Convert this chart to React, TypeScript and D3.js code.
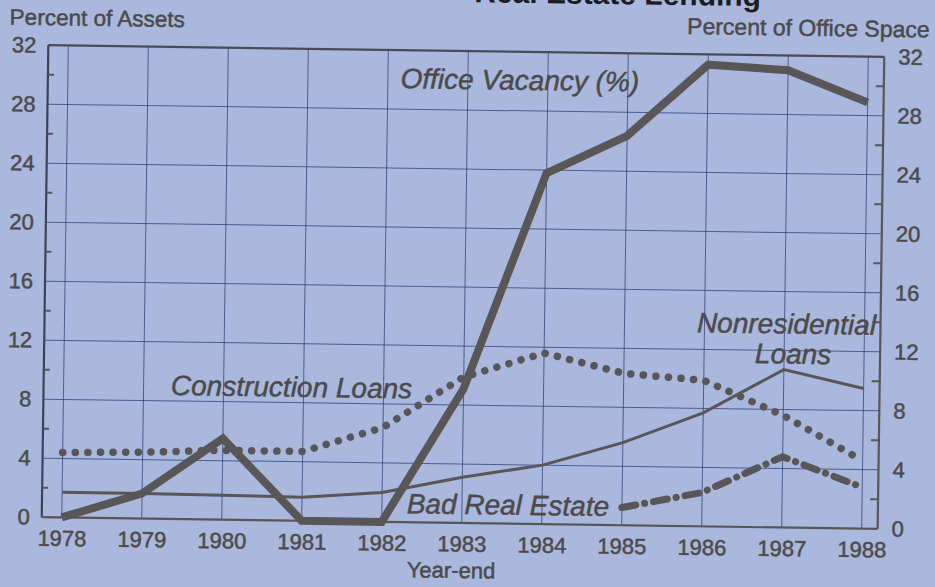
import React, { useEffect, useRef } from 'react';
import * as d3 from 'd3';

// values (percent)
const years = [1978, 1979, 1980, 1981, 1982, 1983, 1984, 1985, 1986, 1987, 1988];
const officeVacancy = [0, 1.7, 5.5, 0, 0, 9.1, 23.8, 26.4, 31.3, 31.0, 28.9];
const constructionLoans = [4.4, 4.5, 4.7, 4.7, 6.4, 9.9, 11.6, 10.3, 9.9, 7.6, 4.6];
const nonresidentialLoans = [1.7, 1.7, 1.65, 1.6, 2.0, 3.1, 4.0, 5.6, 7.7, 10.7, 9.5];
const badRealEstateYears = [1985, 1986, 1987, 1988];
const badRealEstate = [1.2, 2.3, 4.8, 2.8];
const yTicks = [0, 4, 8, 12, 16, 20, 24, 28, 32];
const minorTicks = [2, 6, 10, 14, 18, 22, 26, 30];

const W = 935;
const H = 587;
const FONT = '"Liberation Sans", Arial, Helvetica, sans-serif';
const BG = '#a9b8dc';
const INK = '#595657';
const TEXT = '#4d4a4b';
const GRID = '#2d3f78';

const Chart: React.FC = () => {
  const svgRef = useRef<SVGSVGElement>(null);

  useEffect(() => {
    if (!svgRef.current) return;
    const svg = d3.select(svgRef.current);
    svg.selectAll('*').remove();

    const margin = { top: 51, right: 54, bottom: 64, left: 45 };
    const left = margin.left;
    const right = W - margin.right;
    const top = margin.top;
    const bottom = H - margin.bottom;

    svg.append('rect').attr('width', W).attr('height', H).attr('fill', BG);

    // the scan is slightly tilted
    const g = svg.append('g').attr('transform', 'rotate(0.8,463,287)');

    // title, mostly cut off by the top edge of the scan
    g.append('text')
      .attr('x', 757)
      .attr('y', 2)
      .attr('text-anchor', 'end')
      .attr('font-family', FONT)
      .attr('font-weight', 'bold')
      .attr('font-size', 30)
      .attr('fill', '#1c1c22')
      .text('Real Estate Lending');

    const x = d3.scaleLinear().domain([1978, 1988]).range([65, 865]);
    const y = d3.scaleLinear().domain([0, 32]).range([bottom, top]);

    // grid
    const grid = g.append('g').attr('stroke', GRID).attr('stroke-width', 1).attr('stroke-opacity', 0.75);
    grid.selectAll('line.v')
      .data(years)
      .join('line')
      .attr('class', 'v')
      .attr('x1', d => x(d))
      .attr('x2', d => x(d))
      .attr('y1', top)
      .attr('y2', bottom);
    grid.selectAll('line.h')
      .data(yTicks.filter(v => v > 0 && v < 32))
      .join('line')
      .attr('class', 'h')
      .attr('x1', left)
      .attr('x2', right)
      .attr('y1', d => y(d))
      .attr('y2', d => y(d));

    // frame
    const frame = g.append('g').attr('stroke-width', 2.2).attr('fill', 'none');
    frame.append('line').attr('x1', left).attr('x2', left).attr('y1', top).attr('y2', bottom).attr('stroke', '#3d4258');
    frame.append('line').attr('x1', left).attr('x2', right).attr('y1', top).attr('y2', top).attr('stroke', '#4a4b57');
    frame.append('line').attr('x1', left).attr('x2', right).attr('y1', bottom).attr('y2', bottom).attr('stroke', INK);
    frame.append('line').attr('x1', right).attr('x2', right).attr('y1', top).attr('y2', bottom).attr('stroke', INK);

    // minor ticks, pointing inwards
    g.append('g')
      .selectAll('line')
      .data(minorTicks)
      .join('line')
      .attr('x1', left)
      .attr('x2', left + 6)
      .attr('y1', d => y(d))
      .attr('y2', d => y(d))
      .attr('stroke', INK)
      .attr('stroke-width', 2);
    g.append('g')
      .selectAll('line')
      .data(minorTicks)
      .join('line')
      .attr('x1', right)
      .attr('x2', right - 8)
      .attr('y1', d => y(d))
      .attr('y2', d => y(d))
      .attr('stroke', INK)
      .attr('stroke-width', 2);

    // tick labels
    const styleAxis = (sel: d3.Selection<SVGGElement, unknown, null, undefined>) => {
      sel.select('.domain').remove();
      sel.selectAll('line').remove();
      sel.selectAll('text')
        .attr('font-family', FONT)
        .attr('font-size', 22)
        .attr('fill', TEXT)
        .attr('stroke', TEXT)
        .attr('stroke-width', 0.5);
      sel.attr('font-family', null).attr('font-size', null);
    };

    g.append('g')
      .attr('transform', `translate(${left},0)`)
      .call(d3.axisLeft(y).tickValues(yTicks).tickSize(0).tickPadding(12).tickFormat(d3.format('d')))
      .call(styleAxis);

    g.append('g')
      .attr('transform', `translate(${right},0)`)
      .call(d3.axisRight(y).tickValues(yTicks).tickSize(0).tickPadding(14).tickFormat(d3.format('d')))
      .call(styleAxis);

    g.append('g')
      .attr('transform', `translate(0,${bottom})`)
      .call(d3.axisBottom(x).tickValues(years).tickSize(0).tickPadding(13).tickFormat(d3.format('d')))
      .call(styleAxis);

    // plain text helper
    const label = (tx: number, ty: number, t: string, anchor = 'start', size = 22, italic = false) =>
      g.append('text')
        .attr('x', tx)
        .attr('y', ty)
        .attr('text-anchor', anchor)
        .attr('font-family', FONT)
        .attr('font-size', size)
        .attr('font-style', italic ? 'italic' : 'normal')
        .attr('fill', TEXT)
        .attr('stroke', TEXT)
        .attr('stroke-width', 0.5)
        .text(t);

    label(6, 31, 'Percent of Assets', 'start', 22.5);
    label(926, 31, 'Percent of Office Space', 'end', 23);
    label(455, 578, 'Year-end', 'middle');

    // series
    const line = (xs: number[]) =>
      d3.line<number>()
        .x((_, i) => x(xs[i]))
        .y(d => y(d));

    g.append('path')
      .datum(nonresidentialLoans)
      .attr('fill', 'none')
      .attr('stroke', INK)
      .attr('stroke-width', 3)
      .attr('d', line(years));

    g.append('path')
      .datum(constructionLoans)
      .attr('fill', 'none')
      .attr('stroke', INK)
      .attr('stroke-width', 7.5)
      .attr('stroke-linecap', 'round')
      .attr('stroke-dasharray', '0.1,12.5')
      .attr('d', line(years));

    g.append('path')
      .datum(badRealEstate)
      .attr('fill', 'none')
      .attr('stroke', INK)
      .attr('stroke-width', 7)
      .attr('stroke-linecap', 'round')
      .attr('stroke-dasharray', '14,9,0.1,9')
      .attr('d', line(badRealEstateYears));

    g.append('path')
      .datum(officeVacancy)
      .attr('fill', 'none')
      .attr('stroke', INK)
      .attr('stroke-width', 8)
      .attr('stroke-linejoin', 'miter')
      .attr('d', line(years));

    // in-chart series labels
    label(517, 89, 'Office Vacancy (%)', 'middle', 28, true);
    label(293, 399, 'Construction Loans', 'middle', 28, true);
    label(787, 329, 'Nonresidential', 'middle', 28, true);
    label(794, 359, 'Loans', 'middle', 28, true);
    label(511, 514, 'Bad Real Estate', 'middle', 28, true);
  }, []);

  return (
    <svg
      ref={svgRef}
      width={W}
      height={H}
      style={{ position: 'absolute', left: 0, top: 0, display: 'block' }}
    />
  );
};

export default function App() {
  return <Chart />;
}
